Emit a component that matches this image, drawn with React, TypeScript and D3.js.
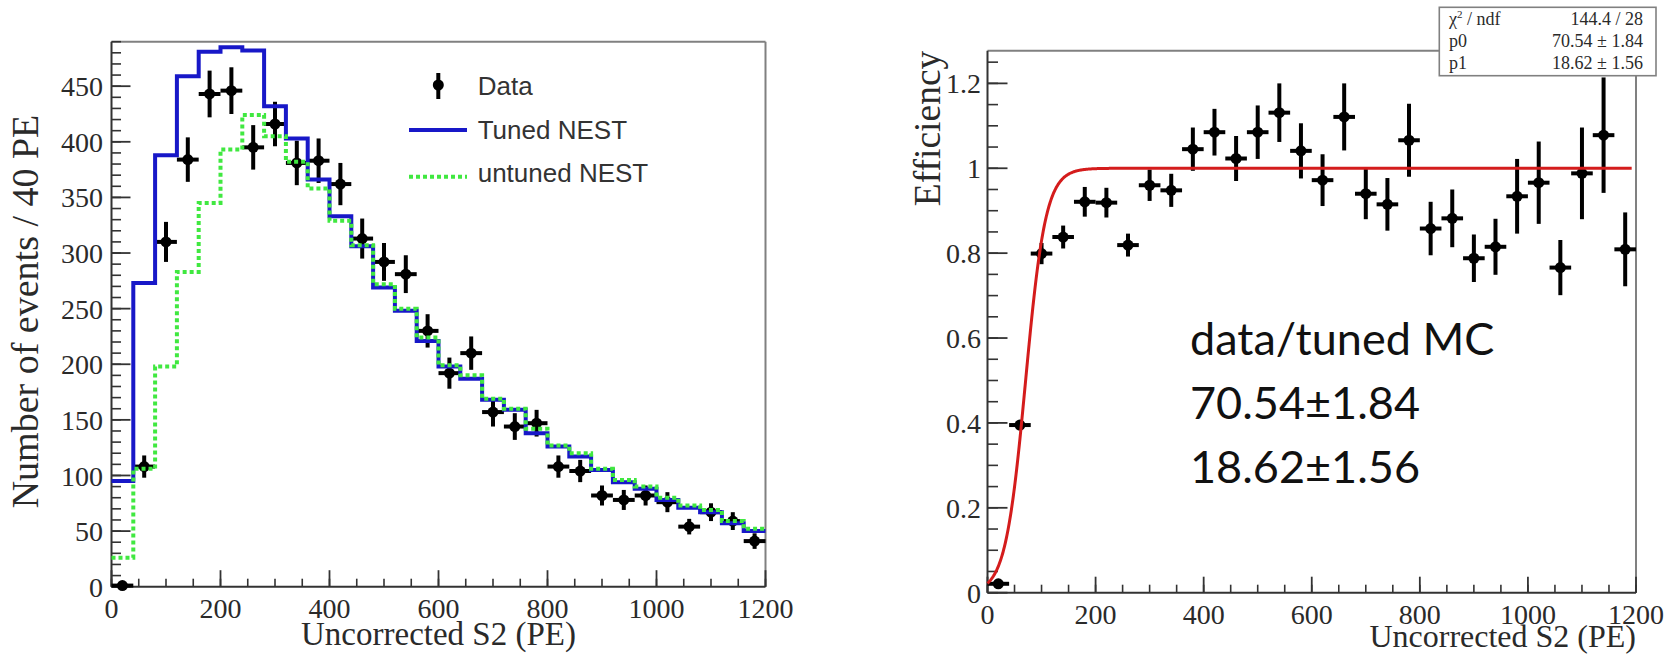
import React from "react";
import * as d3 from "d3";

// ---------- data ----------
const binCenters = [20, 60, 100, 140, 180, 220, 260, 300, 340, 380, 420, 460, 500, 540, 580, 620, 660, 700, 740, 780, 820, 860, 900, 940, 980, 1020, 1060, 1100, 1140, 1180];
const binHalfWidth = 20;

const dataCounts = [1, 108, 310, 384, 443, 446, 395, 416, 381, 383, 362, 313, 292, 281, 230, 192, 210, 157, 144, 147, 108, 104, 82, 78, 82, 76, 54, 67, 59, 41];
const dataCountErr = [1, 10, 18, 20, 21, 21, 20, 20, 20, 20, 19, 18, 17, 17, 15, 14, 15, 13, 12, 12, 10, 10, 9, 9, 9, 9, 7, 8, 8, 7];
const tunedNest = [95, 273, 388, 459, 481, 485, 482, 432, 403, 366, 333, 306, 269, 248, 221, 198, 187, 168, 159, 138, 126, 117, 105, 94, 88, 78, 71, 67, 57, 50];
const untunedNest = [26, 106, 198, 283, 345, 393, 424, 405, 382, 358, 329, 307, 272, 250, 224, 199, 190, 169, 160, 142, 127, 120, 106, 96, 90, 80, 73, 69, 59, 52];

const effValues = [0.021, 0.395, 0.799, 0.838, 0.921, 0.919, 0.819, 0.96, 0.948, 1.045, 1.085, 1.023, 1.085, 1.131, 1.041, 0.972, 1.121, 0.94, 0.915, 1.066, 0.858, 0.882, 0.788, 0.815, 0.934, 0.966, 0.766, 0.988, 1.078, 0.809];
const effErr = [0.01, 0.012, 0.025, 0.027, 0.035, 0.035, 0.027, 0.037, 0.039, 0.051, 0.055, 0.053, 0.063, 0.069, 0.065, 0.061, 0.079, 0.06, 0.062, 0.086, 0.063, 0.068, 0.056, 0.066, 0.088, 0.097, 0.065, 0.108, 0.136, 0.087];

const fitP0 = 70.54;
const fitP1 = 18.62;
const fitRange = [0, 1192];

const xTickValues = [0, 200, 400, 600, 800, 1000, 1200];
const xTickLabels = ["0", "200", "400", "600", "800", "1000", "1200"];
const leftYTickValues = [0, 50, 100, 150, 200, 250, 300, 350, 400, 450];
const leftYTickLabels = ["0", "50", "100", "150", "200", "250", "300", "350", "400", "450"];
const rightYTickValues = [0, 0.2, 0.4, 0.6, 0.8, 1, 1.2];
const rightYTickLabels = ["0", "0.2", "0.4", "0.6", "0.8", "1", "1.2"];

const legendLabels = ["Data", "Tuned NEST", "untuned NEST"];
const statsRows = [
  ["chi", "144.4 / 28"],
  ["p0", "70.54 \u00b1 1.84"],
  ["p1", "18.62 \u00b1 1.56"],
];
const annotationLines = ["data/tuned MC", "70.54\u00b11.84", "18.62\u00b11.56"];

// ---------- style ----------
const SERIF = "'Liberation Serif', 'Times New Roman', serif";
const SANS = "'Liberation Sans', Arial, sans-serif";
const BLUE = "#1818c8";
const GREEN = "#40e840";
const RED = "#d41c1c";
const AXIS = "#333";
const FRAME = "#808080";
const TXT = "#2a2a2a";

type Scale = d3.ScaleLinear<number, number>;

function Frame({ x, y, xMinorStep, yMinorStep, yMajorLen, yMinorLen, xMajorLen, xMinorLen, yTicks, yLabels, xLabelY, yLabelX }: any) {
  const [x0, x1] = x.range();
  const [y0, y1] = y.range();
  const xMinor = d3.range(x.domain()[0], x.domain()[1] + 1e-9, xMinorStep);
  const yMinor = d3.range(y.domain()[0], y.domain()[1] + 1e-9, yMinorStep);
  return (
    <g>
      <line x1={x0} x2={x1} y1={y1} y2={y1} stroke={FRAME} strokeWidth={2} />
      <line x1={x1} x2={x1} y1={y1} y2={y0} stroke={FRAME} strokeWidth={2} />
      <line x1={x0} x2={x0} y1={y1} y2={y0} stroke={AXIS} strokeWidth={2} />
      <line x1={x0} x2={x1} y1={y0} y2={y0} stroke={AXIS} strokeWidth={2} />
      {yMinor.map((v: number, i: number) => (
        <line key={"ym" + i} x1={x0} x2={x0 + yMinorLen} y1={y(v)} y2={y(v)} stroke={AXIS} strokeWidth={1.6} />
      ))}
      {yTicks.map((v: number, i: number) => (
        <line key={"yM" + i} x1={x0} x2={x0 + yMajorLen} y1={y(v)} y2={y(v)} stroke={AXIS} strokeWidth={1.8} />
      ))}
      {xMinor.map((v: number, i: number) => (
        <line key={"xm" + i} x1={x(v)} x2={x(v)} y1={y0} y2={y0 - xMinorLen} stroke={AXIS} strokeWidth={1.6} />
      ))}
      {xTickValues.map((v: number, i: number) => (
        <line key={"xM" + i} x1={x(v)} x2={x(v)} y1={y0} y2={y0 - xMajorLen} stroke={AXIS} strokeWidth={1.8} />
      ))}
      {yTicks.map((v: number, i: number) => (
        <text key={"yl" + i} x={yLabelX} y={y(v)} dy="0.36em" textAnchor="end" fontFamily={SERIF} fontSize={28} fill={TXT}>
          {yLabels[i]}
        </text>
      ))}
      {xTickValues.map((v: number, i: number) => (
        <text key={"xl" + i} x={x(v)} y={xLabelY} textAnchor="middle" fontFamily={SERIF} fontSize={28} fill={TXT}>
          {xTickLabels[i]}
        </text>
      ))}
    </g>
  );
}

function DataPoints({ x, y, values, errs, r }: any) {
  return (
    <g>
      {values.map((v: number, i: number) => {
        const cx = x(binCenters[i]);
        const cy = y(v);
        return (
          <g key={i}>
            <line x1={x(binCenters[i] - binHalfWidth)} x2={x(binCenters[i] + binHalfWidth)} y1={cy} y2={cy} stroke="#000" strokeWidth={4} />
            <line x1={cx} x2={cx} y1={y(v - errs[i])} y2={y(v + errs[i])} stroke="#000" strokeWidth={4} />
            <circle cx={cx} cy={cy} r={r} fill="#000" />
          </g>
        );
      })}
    </g>
  );
}

function stepPath(values: number[], x: Scale, y: Scale) {
  const pts: [number, number][] = values.map((v, i) => [binCenters[i] - binHalfWidth, v]);
  pts.push([binCenters[values.length - 1] + binHalfWidth, values[values.length - 1]]);
  const line = d3
    .line<[number, number]>()
    .x((d) => x(d[0]))
    .y((d) => y(d[1]))
    .curve(d3.curveStepAfter);
  return line(pts) || "";
}

export default function App() {
  const xL = d3.scaleLinear().domain([0, 1200]).range([111.5, 765.5]);
  const yL = d3.scaleLinear().domain([0, 490]).range([586.7, 41.7]);
  const xR = d3.scaleLinear().domain([0, 1200]).range([987.5, 1636]);
  const yR = d3.scaleLinear().domain([0, 1.277]).range([592.7, 50.7]);

  const fitFn = (v: number) => 1 / (1 + Math.exp(-(v - fitP0) / fitP1));
  const fitPts = d3.range(fitRange[0], fitRange[1] + 0.5, 1).map((v) => [v, fitFn(v)] as [number, number]);
  const fitLine =
    d3
      .line<[number, number]>()
      .x((d) => xR(d[0]))
      .y((d) => yR(d[1]))(fitPts) || "";

  return (
    <svg width={1680} height={655} style={{ position: "absolute", left: 0, top: 0, background: "#fff" }}>
      <rect x={0} y={0} width={1680} height={655} fill="#fff" />

      {/* ===== LEFT PANEL ===== */}
      <Frame
        x={xL}
        y={yL}
        xMinorStep={50}
        yMinorStep={10}
        yMajorLen={19}
        yMinorLen={9.5}
        xMajorLen={16.5}
        xMinorLen={8}
        yTicks={leftYTickValues}
        yLabels={leftYTickLabels}
        xLabelY={618}
        yLabelX={103}
      />
      <DataPoints x={xL} y={yL} values={dataCounts} errs={dataCountErr} r={5.5} />
      <path d={stepPath(tunedNest, xL, yL)} fill="none" stroke={BLUE} strokeWidth={4} />
      <path d={stepPath(untunedNest, xL, yL)} fill="none" stroke={GREEN} strokeWidth={4} strokeDasharray="4 3" />

      <text transform="translate(37.5,311.5) rotate(-90)" textAnchor="middle" fontFamily={SERIF} fontSize={38} fill={TXT}>
        Number of events / 40 PE
      </text>
      <text x={438.5} y={645} textAnchor="middle" fontFamily={SERIF} fontSize={33} fill={TXT}>
        Uncorrected S2 (PE)
      </text>

      {/* legend */}
      <g>
        <line x1={438.3} x2={438.3} y1={73} y2={99} stroke="#000" strokeWidth={4} />
        <circle cx={438.3} cy={85} r={5.5} fill="#000" />
        <line x1={409} x2={467} y1={130} y2={130} stroke={BLUE} strokeWidth={4} />
        <line x1={409} x2={467} y1={176.7} y2={176.7} stroke={GREEN} strokeWidth={4} strokeDasharray="4 3" />
        <text x={477.7} y={95} fontFamily={SANS} fontSize={26} fill="#333">{legendLabels[0]}</text>
        <text x={477.7} y={139} fontFamily={SANS} fontSize={26} fill="#333">{legendLabels[1]}</text>
        <text x={477.7} y={181.7} fontFamily={SANS} fontSize={26} fill="#333">{legendLabels[2]}</text>
      </g>

      {/* ===== RIGHT PANEL ===== */}
      <Frame
        x={xR}
        y={yR}
        xMinorStep={50}
        yMinorStep={0.05}
        yMajorLen={20}
        yMinorLen={10.5}
        xMajorLen={16}
        xMinorLen={8}
        yTicks={rightYTickValues}
        yLabels={rightYTickLabels}
        xLabelY={624}
        yLabelX={981}
      />
      <DataPoints x={xR} y={yR} values={effValues} errs={effErr} r={5.5} />
      <path d={fitLine} fill="none" stroke={RED} strokeWidth={3} />

      <text transform="translate(940,50.7) rotate(-90)" textAnchor="end" fontFamily={SERIF} fontSize={37.5} fill={TXT}>
        Efficiency
      </text>
      <text x={1636} y={647} textAnchor="end" fontFamily={SERIF} fontSize={32} fill={TXT}>
        Uncorrected S2 (PE)
      </text>

      {/* annotation */}
      {annotationLines.map((t, i) => (
        <text key={i} x={1190} y={355 + i * 64} fontFamily="Lato, 'Open Sans', sans-serif" fontSize={45} fill="#111">
          {t}
        </text>
      ))}

      {/* stats box */}
      <g>
        <rect x={1439.3} y={7.3} width={216.7} height={68.4} fill="#fff" stroke={FRAME} strokeWidth={1.6} />
        <text x={1449} y={25} fontFamily={SERIF} fontSize={18} fill={TXT}>
          {"\u03c7"}
          <tspan dy={-7} fontSize={11}>2</tspan>
          <tspan dy={7}>{" / ndf"}</tspan>
        </text>
        <text x={1449} y={47} fontFamily={SERIF} fontSize={18} fill={TXT}>{statsRows[1][0]}</text>
        <text x={1449} y={69} fontFamily={SERIF} fontSize={18} fill={TXT}>{statsRows[2][0]}</text>
        {statsRows.map((r, i) => (
          <text key={i} x={1643} y={25 + i * 22} textAnchor="end" fontFamily={SERIF} fontSize={18} fill={TXT}>
            {r[1]}
          </text>
        ))}
      </g>
    </svg>
  );
}
